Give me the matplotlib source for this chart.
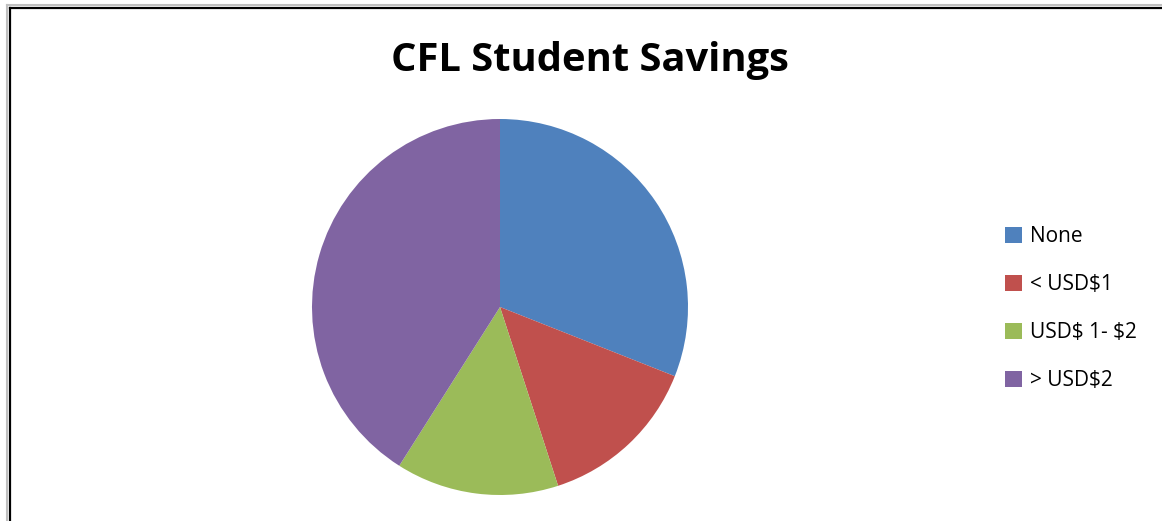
import matplotlib
matplotlib.use('Agg')
import matplotlib.pyplot as plt
from matplotlib.lines import Line2D

labels = ["None", "< USD\\$1", "USD\\$ 1- \\$2", "> USD\\$2"]
values = [31, 14, 14, 41]
colors = ["#4F81BD", "#C0504D", "#9BBB59", "#8064A2"]

W, H = 1162, 521
fig = plt.figure(figsize=(W / 100, H / 100), dpi=100)

# pie axes: centre (500, 307) px, radius 188 px
cx, cy, r = 500, 307, 188
ax = fig.add_axes([(cx - r) / W, (H - cy - r) / H, 2 * r / W, 2 * r / H])
wedges, _ = ax.pie(values, colors=colors, startangle=90, counterclock=False,
                   radius=1, wedgeprops={"linewidth": 0})
ax.set_xlim(-1, 1)
ax.set_ylim(-1, 1)
ax.set_aspect("auto")
ax.axis("off")

fig.text(590 / W, 1 - 60 / H, "CFL Student Savings", ha="center", va="center",
         fontsize=28.7, fontweight="bold", family="Open Sans")

leg = fig.legend(wedges, labels, loc="center left",
                 bbox_to_anchor=(995 / W, 1 - 308.5 / H), frameon=False,
                 prop={"family": "Open Sans", "size": 15},
                 handlelength=0.8, handleheight=0.8, handletextpad=0.4,
                 labelspacing=1.3, borderpad=0)

# outer frame (left and top edges only visible)
fig.add_artist(Line2D([7 / W, 7 / W], [0, 1 - 5 / H], color="#c0c0c0", lw=1.5,
                      transform=fig.transFigure))
fig.add_artist(Line2D([7 / W, 1], [1 - 5 / H, 1 - 5 / H], color="#c0c0c0", lw=1.5,
                      transform=fig.transFigure))
fig.add_artist(Line2D([9.5 / W, 9.5 / W], [0, 1 - 7.5 / H], color="black", lw=1.6,
                      transform=fig.transFigure))
fig.add_artist(Line2D([9.5 / W, 1], [1 - 7.5 / H, 1 - 7.5 / H], color="black", lw=1.6,
                      transform=fig.transFigure))

fig.savefig("out.png", dpi=100)
plt.close()
